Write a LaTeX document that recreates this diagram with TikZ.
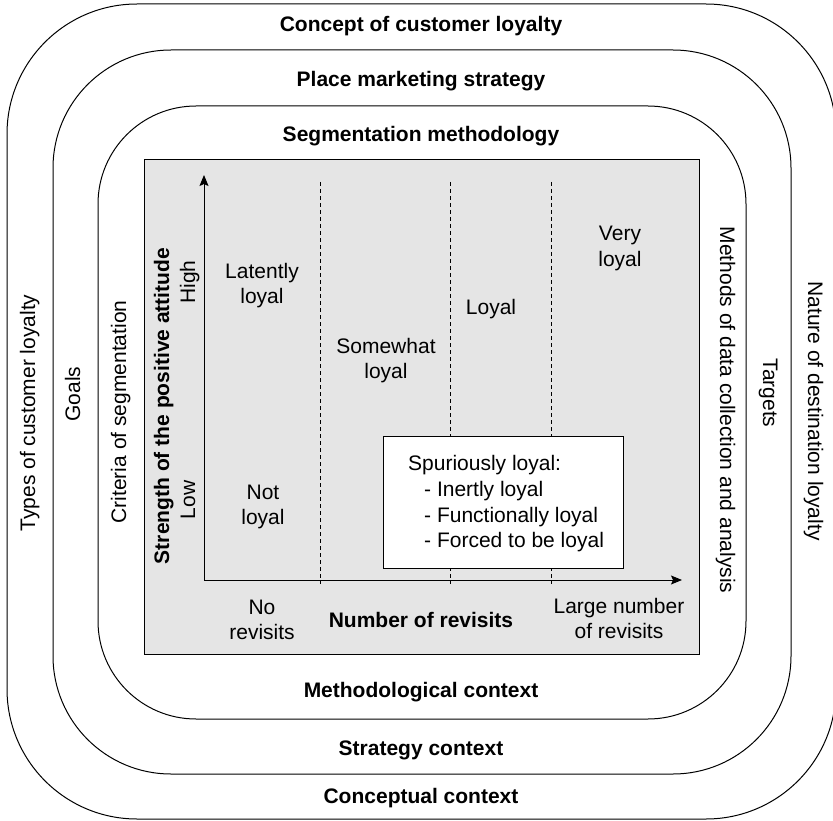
\documentclass[tikz,border=0pt]{standalone}
\usepackage{fontspec}
\setmainfont{Liberation Sans}
\usetikzlibrary{arrows.meta}
\begin{document}
\begin{tikzpicture}[x=1pt,y=-1pt,
  frame/.style={draw=black,line width=1pt},
  lbl/.style={inner sep=0pt,anchor=base,font=\fontsize{21}{25}\selectfont},
  blbl/.style={lbl,font=\fontsize{21}{25}\selectfont\bfseries},
  multi/.style={lbl,align=center},
  divider/.style={draw=black,line width=0.9pt,dash pattern=on 4pt off 3pt},
  axis/.style={draw=black,line width=1pt,-{Stealth[length=11pt,width=9pt,inset=2pt]}}]
\useasboundingbox (0,0) rectangle (833,821);

% nested contexts
\draw[frame,rounded corners=130pt] (7,4) rectangle (836,819);
\draw[frame,rounded corners=118pt] (53,50) rectangle (791,774);
\draw[frame,rounded corners=98pt] (98,106) rectangle (746,719);

% segmentation grid
\draw[frame,fill=black!10] (144,160) rectangle (699,654);

\coordinate (O) at (204,580);
\coordinate (ytop) at (204,175);
\coordinate (xend) at (682,580);
\foreach \x/\n in {320/a,450/b,551/c}{
  \coordinate (d\n t) at (\x,182);
  \coordinate (d\n b) at (\x,584);
  \draw[divider] (d\n t) -- (d\n b);
}
\draw[axis] (O) -- (ytop);
\draw[axis] (O) -- (xend);

\node[frame,fill=white,minimum width=240pt,minimum height=132pt,anchor=north west,inner sep=0pt] (spur) at (383,436) {};
\node[lbl,anchor=base west] (sp0) at (408,470) {Spuriously loyal:};
\node[lbl,anchor=base west] (sp1) at (424,496) {- Inertly loyal};
\node[lbl,anchor=base west] (sp2) at (424,522) {- Functionally loyal};
\node[lbl,anchor=base west] (sp3) at (424,547) {- Forced to be loyal};

% segment names (anchored on the baseline of the last line)
\node[multi] (latent) at (262,304) {Latently\\loyal};
\node[multi] (notl) at (263,524) {Not\\loyal};
\node[multi] (somewhat) at (386,378) {Somewhat\\loyal};
\node[lbl] (loyal) at (491,314) {Loyal};
\node[multi] (very) at (620,266) {Very\\loyal};

% axis labels
\node[multi] (norev) at (262,639) {No\\revisits};
\node[blbl] (nrev) at (421,627) {Number of revisits};
\node[multi] (largerev) at (619,638) {Large number\\of revisits};
\node[blbl,rotate=90] (strength) at (169,406) {Strength of the positive attitude};
\node[lbl,rotate=90] (high) at (195,282) {High};
\node[lbl,rotate=90] (low) at (195,500) {Low};

% context titles
\node[blbl] (t1) at (421,32) {Concept of customer loyalty};
\node[blbl] (t2) at (421,87) {Place marketing strategy};
\node[blbl] (t3) at (421,142) {Segmentation methodology};
\node[blbl] (b1) at (421,697) {Methodological context};
\node[blbl] (b2) at (421,755) {Strategy context};
\node[blbl] (b3) at (421,803) {Conceptual context};

% side labels
\node[lbl,rotate=90] (l1) at (35,413) {Types of customer loyalty};
\node[lbl,rotate=90] (l2) at (80,394) {Goals};
\node[lbl,rotate=90] (l3) at (126,412) {Criteria of segmentation};
\node[lbl,rotate=-90] (r1) at (808,411) {Nature of destination loyalty};
\node[lbl,rotate=-90] (r2) at (763,393) {Targets};
\node[lbl,rotate=-90] (r3) at (720,410) {Methods of data collection and analysis};
\end{tikzpicture}
\end{document}
